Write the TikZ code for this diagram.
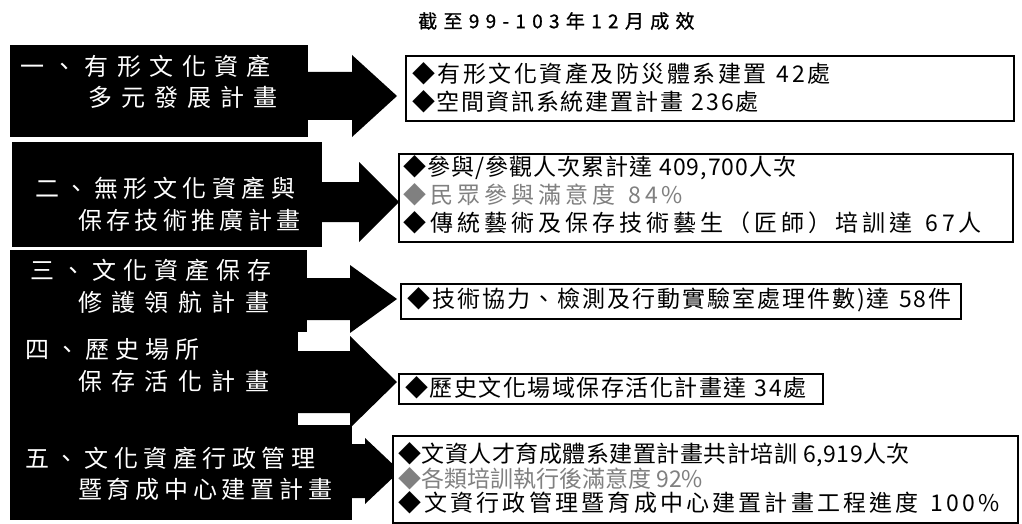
\documentclass[tikz,border=0pt]{standalone}
\usepackage{fontspec}
\newfontfamily\cjk{Noto Sans CJK TC}
\newfontfamily\cjkt[FakeBold=1]{Noto Sans CJK TC}
\usetikzlibrary{calc}
\makeatletter
\newcommand\lsp[2]{\def\lsp@sep{#1}\lsp@aux#2\relax}
\def\lsp@aux#1{\ifx#1\relax\else#1\kern\lsp@sep pt\relax\expandafter\lsp@aux\fi}
\makeatother
\tikzset{
  lbox/.style={fill=black, draw=none, inner sep=0pt, anchor=north west},
  rbox/.style={fill=white, draw=black, line width=2.2pt, inner sep=0pt, anchor=north west},
  ltxt/.style={text=white, font=\cjk\fontsize{24}{24}\selectfont, anchor=west, inner sep=0pt},
  rtxt/.style={text=black, font=\cjk\fontsize{23}{23}\selectfont, anchor=west, inner sep=0pt},
  gtxt/.style={rtxt, text=black!50},
  ttxt/.style={text=black, font=\cjkt\fontsize{19}{19}\selectfont, anchor=west, inner sep=0pt},
  arrowfill/.style={fill=black}
}
\newcommand\barrow[5]{%
  \fill[arrowfill] ($(#1)+(-2,-#4)$) -- ($(#2)+(-#3,-#4)$) -- ($(#2)+(-#3,-#5)$) -- (#2)
    -- ($(#2)+(-#3,#5)$) -- ($(#2)+(-#3,#4)$) -- ($(#1)+(-2,#4)$) -- cycle;}
\begin{document}
\begin{tikzpicture}[x=1pt, y=-1pt]
\fill[white] (0,0) rectangle (1022,524);
\useasboundingbox (0,0) rectangle (1022,524);

\node[ttxt] (T) at (418,21) {\lsp{6.3}{截至99-103年12月成效}};

% left boxes
\node[lbox, minimum width=298pt, minimum height=92pt] (L1) at (10,45) {};
\node[lbox, minimum width=310pt, minimum height=105pt] (L2) at (12,142) {};
\node[lbox, minimum width=297pt, minimum height=82pt] (L3) at (10,250) {};
\node[lbox, minimum width=288pt, minimum height=95pt] (L4) at (10,332) {};
\node[lbox, minimum width=342pt, minimum height=95pt] (L5) at (10,425) {};

% right boxes (positions)
\coordinate (R1nw) at (405,55);
\coordinate (R2nw) at (398,153);
\coordinate (R3nw) at (400,283);
\coordinate (R4nw) at (398,373);
\coordinate (R5nw) at (392,435);

% arrows
\coordinate (A1s) at (L1.east |- 0,96);  \coordinate (A1t) at ($(R1nw |- 0,96)+(-8,0)$);
\coordinate (A2s) at (L2.east |- 0,202); \coordinate (A2t) at ($(R2nw |- 0,202)+(1,0)$);
\coordinate (A3s) at (L3.east |- 0,299); \coordinate (A3t) at ($(R3nw |- 0,299)+(-3,0)$);
\coordinate (A4s) at (L4.east |- 0,382); \coordinate (A4t) at ($(R4nw |- 0,382)+(-1,0)$);
\coordinate (A5s) at (L5.east |- 0,471); \coordinate (A5t) at ($(R5nw |- 0,471)+(8,0)$);
\barrow{A1s}{A1t}{45}{24}{41}
\barrow{A2s}{A2t}{40}{20}{40}
\barrow{A3s}{A3t}{47}{21}{34}
\barrow{A4s}{A4t}{47}{31}{46}
\barrow{A5s}{A5t}{35}{27}{33}

\node[rbox, minimum width=608pt, minimum height=65pt] (R1) at (R1nw) {};
\node[rbox, minimum width=614pt, minimum height=88pt] (R2) at (R2nw) {};
\node[rbox, minimum width=560pt, minimum height=35pt] (R3) at (R3nw) {};
\node[rbox, minimum width=424pt, minimum height=30pt] (R4) at (R4nw) {};
\node[rbox, minimum width=625pt, minimum height=87pt] (R5) at (R5nw) {};

% left texts
\node[ltxt] (L1a) at (20,66)  {\lsp{8.4}{一、有形文化資產}};
\node[ltxt] (L1b) at (88,97)  {\lsp{9}{多元發展計畫}};
\node[ltxt] (L2a) at (35,188) {\lsp{5.5}{二、無形文化資產與}};
\node[ltxt] (L2b) at (78,220) {\lsp{4.3}{保存技術推廣計畫}};
\node[ltxt] (L3a) at (30,270) {\lsp{7}{三、文化資產保存}};
\node[ltxt] (L3b) at (78,302) {\lsp{9.4}{修護領航計畫}};
\node[ltxt] (L4a) at (25,349) {\lsp{6}{四、歷史場所}};
\node[ltxt] (L4b) at (78,381) {\lsp{9.4}{保存活化計畫}};
\node[ltxt] (L5a) at (25,458) {\lsp{5.6}{五、文化資產行政管理}};
\node[ltxt] (L5b) at (78,489) {\lsp{4.75}{暨育成中心建置計畫}};

% right texts
\node[rtxt] (R1a) at (412,74)  {\lsp{2.5}{◆有形文化資產及防災體系建置~42處}};
\node[rtxt] (R1b) at (412,102) {\lsp{1.8}{◆空間資訊系統建置計畫~236處}};
\node[rtxt] (R2a) at (403,168) {\lsp{1}{◆參與/參觀人次累計達~409,700人次}};
\node[gtxt] (R2b) at (403,195) {\lsp{4}{◆民眾參與滿意度~84\%}};
\node[rtxt] (R2c) at (403,223) {\lsp{4}{◆傳統藝術及保存技術藝生（匠師）培訓達~67人}};
\node[rtxt] (R3a) at (407,300) {\lsp{2}{◆技術協力、檢測及行動實驗室處理件數)達~58件}};
\node[rtxt] (R4a) at (405,388) {\lsp{1.5}{◆歷史文化場域保存活化計畫達~34處}};
\node[rtxt] (R5a) at (398,455) {\lsp{0.5}{◆文資人才育成體系建置計畫共計培訓~6,919人次}};
\node[gtxt] (R5b) at (398,479) {\lsp{0}{◆各類培訓執行後滿意度~92\%}};
\node[rtxt] (R5c) at (398,503) {\lsp{3.2}{◆文資行政管理暨育成中心建置計畫工程進度~100\%}};
\end{tikzpicture}
\end{document}
